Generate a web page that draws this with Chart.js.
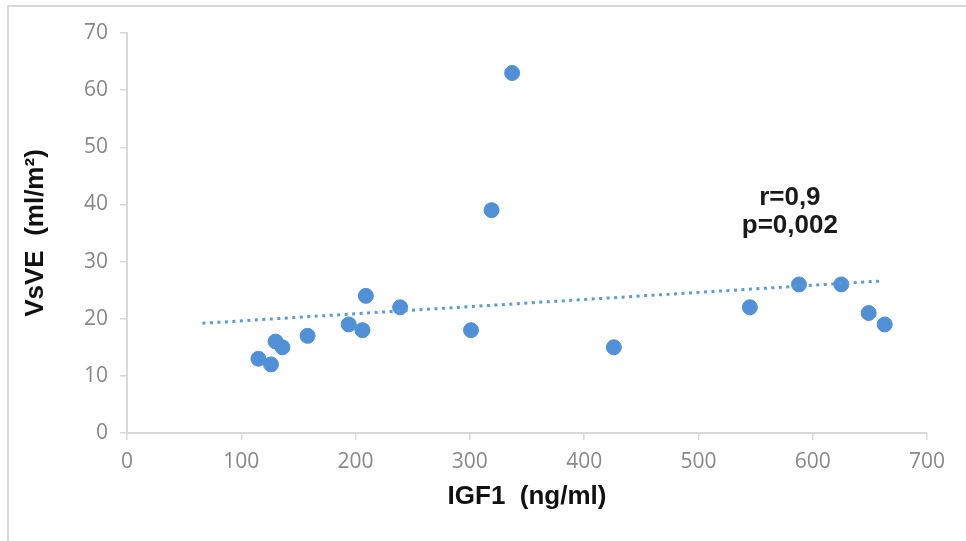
<!DOCTYPE html>
<html>
<head>
<meta charset="utf-8">
<script src="https://cdn.jsdelivr.net/npm/chart.js@4/dist/chart.umd.min.js"></script>
<style>
  html, body { margin: 0; padding: 0; background: #fff; overflow: hidden; }
  #wrap { position: relative; width: 966px; height: 541px; overflow: hidden; }
  #frame { position: absolute; left: 7px; top: 5px; width: 970px; height: 550px;
           border-left: 2px solid #d9d9d9; border-top: 2px solid #d9d9d9; }
  canvas { position: absolute; left: 0; top: 0; }
</style>
</head>
<body>
<div id="wrap">
  <div id="frame"></div>
  <canvas id="graphe" width="966" height="541"></canvas>
</div>
<script>
// donnees
const igf1 = [115, 126, 130, 136, 158, 194, 206, 209, 239, 301, 319, 337, 426, 545, 588, 625, 649, 663];
const vsve = [13, 12, 16, 15, 17, 19, 18, 24, 22, 18, 39, 63, 15, 22, 26, 26, 21, 19];
const tendanceX = [66, 660];
const tendanceY = [19.2, 26.6];
const xTicks = [0, 100, 200, 300, 400, 500, 600, 700];
const yTicks = [0, 10, 20, 30, 40, 50, 60, 70];
const annotation = ["r=0,9", "p=0,002"];
const annotPos = { x: 580, y: [41.1, 36.3] };

const points = igf1.map((x, i) => ({ x: x, y: vsve[i] }));
const tendance = tendanceX.map((x, i) => ({ x: x, y: tendanceY[i] }));

const texteStats = {
    id: 'texteStats',
    afterDatasetsDraw(chart) {
        const ctx = chart.ctx;
        const xs = chart.scales.x, ys = chart.scales.y;
        ctx.save();
        ctx.fillStyle = '#1a1a1a';
        ctx.font = 'bold 26px "Liberation Sans", Arial, sans-serif';
        ctx.textAlign = 'center';
        ctx.textBaseline = 'middle';
        annotation.forEach((t, i) => {
            ctx.fillText(t, xs.getPixelForValue(annotPos.x), ys.getPixelForValue(annotPos.y[i]));
        });
        ctx.restore();
    }
};

const gris = '#d9d9d9';
const tickFont = { family: '"Open Sans", sans-serif', size: 21 };
const titreFont = { family: '"Liberation Sans", Arial, sans-serif', size: 26, weight: 'bold' };

new Chart(document.getElementById('graphe'), {
    type: 'scatter',
    data: {
        datasets: [
            {
                label: 'tendance',
                type: 'line',
                data: tendance,
                borderColor: '#5b9bd5',
                borderWidth: 3,
                borderDash: [3, 4.5],
                pointRadius: 0,
                fill: false
            },
            {
                label: 'VsVE',
                data: points,
                backgroundColor: '#5090d6',
                borderColor: '#5090d6',
                pointRadius: 7.5,
                pointHoverRadius: 7.5
            }
        ]
    },
    options: {
        responsive: false,
        animation: false,
        layout: { padding: { left: 0, right: 39, top: 33, bottom: 0 } },
        plugins: { legend: { display: false }, tooltip: { enabled: false } },
        scales: {
            x: {
                type: 'linear',
                min: 0, max: 700,
                afterBuildTicks: s => { s.ticks = xTicks.map(v => ({ value: v })); },
                afterFit: s => { s.height = 108; },
                grid: { display: true, drawOnChartArea: false, tickLength: 7, color: gris, lineWidth: 1.5 },
                border: { color: gris, width: 2 },
                ticks: { color: '#888888', font: tickFont, padding: 9, maxRotation: 0 },
                title: {
                    display: true, text: 'IGF1  (ng/ml)', color: '#111',
                    font: titreFont,
                    padding: { top: 0, bottom: 29 }
                }
            },
            y: {
                min: 0, max: 70,
                afterBuildTicks: s => { s.ticks = yTicks.map(v => ({ value: v })); },
                afterFit: s => { s.width = 127; },
                grid: { display: true, drawOnChartArea: false, tickLength: 7, color: gris, lineWidth: 1.5 },
                border: { color: gris, width: 2 },
                ticks: { color: '#888888', font: tickFont, padding: 12 },
                title: {
                    display: true, text: 'VsVE  (ml/m²)', color: '#111',
                    font: titreFont,
                    padding: { top: 20, bottom: 0 }
                }
            }
        }
    },
    plugins: [texteStats]
});
</script>
</body>
</html>
